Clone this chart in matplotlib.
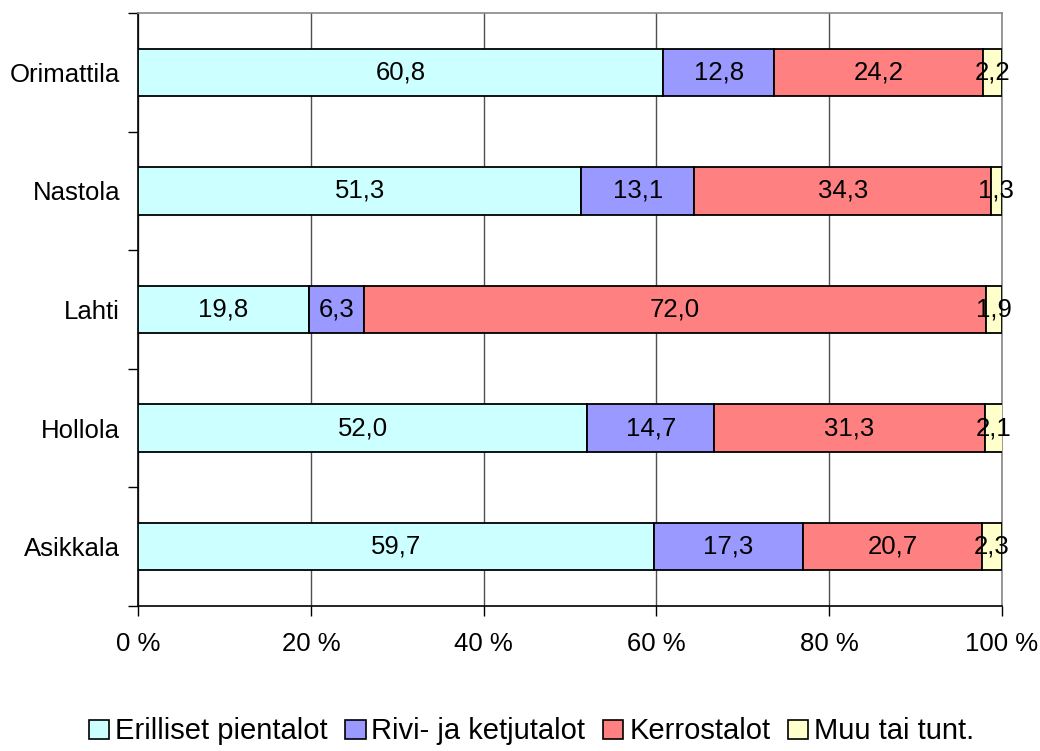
import matplotlib
matplotlib.use("Agg")
import matplotlib.pyplot as plt
from matplotlib.patches import Patch
import numpy as np

plt.rcParams['font.family'] = ['Liberation Sans', 'DejaVu Sans']

categories = ["Asikkala", "Hollola", "Lahti", "Nastola", "Orimattila"]
series_names = ["Erilliset pientalot", "Rivi- ja ketjutalot", "Kerrostalot", "Muu tai tunt."]
erilliset = [59.7, 52.0, 19.8, 51.3, 60.8]
rivi = [17.3, 14.7, 6.3, 13.1, 12.8]
kerros = [20.7, 31.3, 72.0, 34.3, 24.2]
muu = [2.3, 2.1, 1.9, 1.3, 2.2]
colors = ["#CCFFFF", "#9999FF", "#FF8080", "#FFFFCC"]
xticks = [0, 20, 40, 60, 80, 100]
xticklabels = ["0 %", "20 %", "40 %", "60 %", "80 %", "100 %"]

fig = plt.figure(figsize=(10.4, 7.51), dpi=100)
ax = fig.add_axes([0.1327, 0.193, 0.8308, 0.7897])

y = np.arange(len(categories))
left = np.zeros(len(categories))
for vals, col in zip([erilliset, rivi, kerros, muu], colors):
    vals = np.array(vals)
    ax.barh(y, vals, left=left, height=0.4, color=col, edgecolor='black', linewidth=1.3, zorder=3)
    for yi, l, v in zip(y, left, vals):
        ax.text(l + v / 2, yi, f"{v:.1f}".replace('.', ','), ha='center', va='center',
                fontsize=18.5, color='black', zorder=4)
    left = left + vals

ax.set_xlim(0, 100)
ax.set_ylim(-0.5, len(categories) - 0.5)
ax.set_xticks(xticks)
ax.set_xticklabels(xticklabels, fontsize=18.5)
ax.set_yticks(y)
ax.set_yticklabels(categories, fontsize=18.5)
ax.set_yticks(np.arange(-0.5, len(categories), 1), minor=True)
ax.tick_params(axis='y', which='major', length=0, pad=13)
ax.tick_params(axis='y', which='minor', length=7, width=1, color='black', direction='out')
ax.tick_params(axis='x', which='major', length=7, width=1, color='black', direction='out', pad=12)

ax.xaxis.grid(True, color='#505050', linewidth=1, zorder=0)
ax.set_axisbelow(True)
for s in ['top', 'right']:
    ax.spines[s].set_color('#888888')
    ax.spines[s].set_linewidth(1.2)
for s in ['left', 'bottom']:
    ax.spines[s].set_color('black')
    ax.spines[s].set_linewidth(1.2)

handles = [Patch(facecolor=c, edgecolor='black', linewidth=1.2) for c in colors]
fig.legend(handles, series_names, loc='center', bbox_to_anchor=(0.511, 0.026), ncol=4,
           frameon=False, fontsize=21, handlelength=0.7, handleheight=0.62,
           handletextpad=0.2, columnspacing=0.6, borderpad=0)

fig.savefig("out.png", dpi=100)
